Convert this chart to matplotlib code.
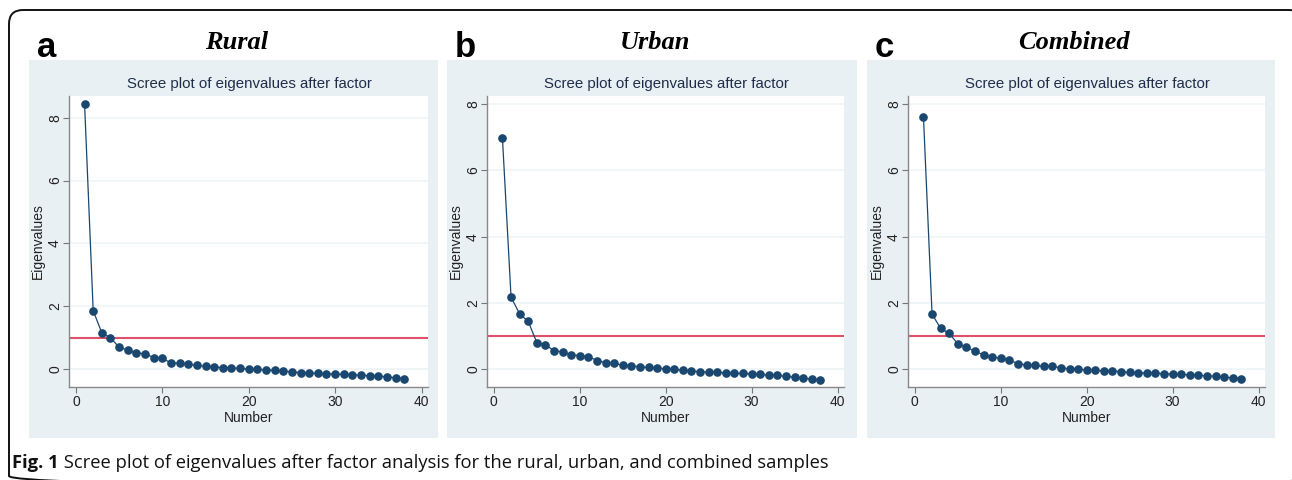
import matplotlib
matplotlib.use("Agg")
import matplotlib.pyplot as plt
from matplotlib.patches import FancyBboxPatch, Rectangle

numbers = list(range(1, 39))

rural = [8.45, 1.86, 1.15, 0.99, 0.70, 0.60, 0.51, 0.49, 0.36, 0.34,
         0.20, 0.18, 0.15, 0.12, 0.09, 0.06, 0.05, 0.04, 0.02, 0.00,
         -0.01, -0.03, -0.04, -0.06, -0.09, -0.11, -0.12, -0.14, -0.15, -0.16,
         -0.17, -0.18, -0.20, -0.21, -0.23, -0.24, -0.28, -0.31]
urban = [6.97, 2.17, 1.67, 1.44, 0.80, 0.73, 0.56, 0.52, 0.43, 0.41,
         0.38, 0.26, 0.20, 0.17, 0.12, 0.10, 0.07, 0.05, 0.03, 0.01,
         -0.01, -0.03, -0.05, -0.08, -0.09, -0.09, -0.12, -0.13, -0.13, -0.14,
         -0.16, -0.18, -0.19, -0.22, -0.24, -0.26, -0.31, -0.32]
combined = [7.62, 1.66, 1.23, 1.08, 0.76, 0.66, 0.54, 0.43, 0.36, 0.33,
            0.28, 0.16, 0.13, 0.11, 0.08, 0.08, 0.04, 0.01, 0.00, -0.03,
            -0.04, -0.05, -0.05, -0.08, -0.10, -0.11, -0.12, -0.12, -0.14, -0.15,
            -0.16, -0.17, -0.19, -0.20, -0.22, -0.25, -0.26, -0.29]

panel_letters = ["a", "b", "c"]
panel_titles = ["Rural", "Urban", "Combined"]
subtitle = "Scree plot of eigenvalues after factor"
yticks = [0, 2, 4, 6, 8]
xticks = [0, 10, 20, 30, 40]
threshold = 1
caption_bold = "Fig. 1"
caption_text = " Scree plot of eigenvalues after factor analysis for the rural, urban, and combined samples"

W, H = 1292, 480
fig = plt.figure(figsize=(W / 100, H / 100), dpi=100)
fig.patch.set_facecolor("white")

# overlay in pixel coordinates for decoration
ov = fig.add_axes([0, 0, 1, 1], zorder=0)
ov.set_xlim(0, W)
ov.set_ylim(H, 0)
ov.axis("off")

border = FancyBboxPatch((9, 10), 1294, 480, boxstyle="round,pad=0,rounding_size=14",
                        fill=False, edgecolor="#111111", linewidth=1.4)
ov.add_patch(border)

bg_color = "#e9f0f3"
bg_x = [(29, 438), (447, 857), (867, 1275)]
axes_px = [(69, 428), (487, 844), (908, 1265)]
ylims = [(-0.57, 8.69), (-0.54, 8.25), (-0.54, 8.25)]
top_px, bot_px = 96, 387

sans = ["Liberation Sans", "DejaVu Sans"]
data = [rural, urban, combined]
navy = "#1a476f"

for i in range(3):
    x0, x1 = bg_x[i]
    ov.add_patch(Rectangle((x0, 60), x1 - x0, 378, facecolor=bg_color, edgecolor="none"))
    ax0, ax1 = axes_px[i]
    ov.text(x0 + 8, 57, panel_letters[i], fontsize=25, fontweight="bold",
            family=sans, ha="left", va="baseline", color="black")
    ov.text((x0 + x1) / 2 + 3, 49, panel_titles[i], fontsize=19, fontweight="bold",
            fontstyle="italic", family=["Liberation Serif", "DejaVu Serif"],
            ha="center", va="baseline", color="black")
    ov.text((ax0 + ax1) / 2 + 1, 84, subtitle, fontsize=10.8, family=sans,
            ha="center", va="center", color="#1e2d4a")

    ax = fig.add_axes([ax0 / W, (H - bot_px) / H, (ax1 - ax0) / W, (bot_px - top_px) / H], zorder=2)
    ax.set_facecolor("white")
    ax.set_xlim(-0.8, 40.75)
    ax.set_ylim(*ylims[i])
    for yv in yticks:
        ax.axhline(yv, color="#eef4f6", linewidth=1.2, zorder=0)
    ax.axhline(threshold, color="#e0506a", linewidth=1.5, zorder=1)
    ax.plot(numbers, data[i], color=navy, linewidth=0.9, marker="o", markersize=5.2,
            markerfacecolor=navy, markeredgecolor=navy, zorder=3)
    ax.set_xticks(xticks)
    ax.set_yticks(yticks)
    ax.set_yticklabels([str(v) for v in yticks], rotation=90, va="center")
    for lab in ax.get_xticklabels() + ax.get_yticklabels():
        lab.set_family(sans)
        lab.set_fontsize(10)
        lab.set_color("#222222")
    ax.tick_params(axis="x", length=4, width=0.8, color="#777777", pad=2)
    ax.tick_params(axis="y", length=4, width=0.8, color="#777777", pad=1)
    for s in ["top", "right"]:
        ax.spines[s].set_visible(False)
    for s in ["left", "bottom"]:
        ax.spines[s].set_color("#888888")
        ax.spines[s].set_linewidth(1.0)
    ax.set_xlabel("Number", fontsize=10, family=sans, color="#222222", labelpad=1)
    ax.set_ylabel("Eigenvalues", fontsize=10, family=sans, color="#222222", labelpad=2)

t1 = ov.text(12, 468, caption_bold, fontsize=13.2, fontweight="bold",
             family=["Open Sans", "DejaVu Sans"], ha="left", va="baseline", color="#111111")
fig.canvas.draw()
bb = t1.get_window_extent()
ov.text(12 + bb.width, 468, caption_text, fontsize=13.2,
        family=["Open Sans", "DejaVu Sans"], ha="left", va="baseline", color="#111111")

fig.savefig("out.png", dpi=100)
